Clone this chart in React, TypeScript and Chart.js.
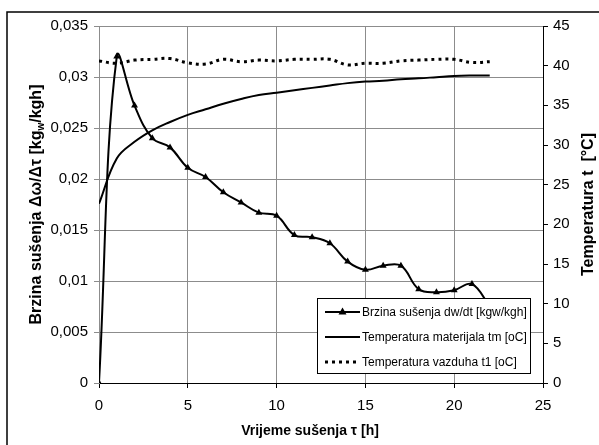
import React, { useEffect, useRef } from 'react';
import { Chart, registerables } from 'chart.js';

Chart.register(...registerables);

// ---- data ----
const hours = [0, 1, 2, 3, 4, 5, 6, 7, 8, 9, 10, 11, 12, 13, 14, 15, 16, 17, 18, 19, 20, 21, 22];
const dryingRate = [0, 0.032, 0.0272, 0.024, 0.0231, 0.0211, 0.0202, 0.0187, 0.0177, 0.0167, 0.0164, 0.0145, 0.0143, 0.0137, 0.0119, 0.0111, 0.0115, 0.0115, 0.0092, 0.0089, 0.0091, 0.0097, 0.0075];
const materialTemp = [22.6, 28.3, 30.4, 31.85, 32.9, 33.8, 34.5, 35.2, 35.8, 36.3, 36.6, 36.9, 37.2, 37.5, 37.8, 38.0, 38.1, 38.3, 38.4, 38.55, 38.7, 38.75, 38.75];
const airTemp = [40.6, 40.3, 40.7, 40.8, 40.9, 40.35, 40.2, 40.8, 40.5, 40.7, 40.6, 40.8, 40.8, 40.8, 40.1, 40.3, 40.3, 40.6, 40.7, 40.8, 40.8, 40.4, 40.5];

const seriesLabels = [
  'Brzina sušenja dw/dt [kgw/kgh]',
  'Temperatura materijala tm [oC]',
  'Temperatura vazduha t1 [oC]',
];
const xTitle = 'Vrijeme sušenja τ [h]';
const yTitleParts = ['Brzina sušenja Δω/Δτ [kg', 'w', '/kgh]'];
const y1Title = 'Temperatura t  [°C]';

const FONT = '"Liberation Sans", Arial, sans-serif';
const GRID = '#8c8c8c';

const decorPlugin = {
  id: 'decor',
  beforeDraw(chart: any) {
    const ctx = chart.ctx;
    ctx.save();
    ctx.fillStyle = '#fff';
    ctx.fillRect(0, 0, chart.width, chart.height);
    ctx.strokeStyle = '#000';
    ctx.lineWidth = 1.5;
    ctx.strokeRect(7, 12, chart.width + 20, chart.height + 20);
    ctx.restore();
  },
  afterDraw(chart: any) {
    const ctx = chart.ctx;
    const ca = chart.chartArea;
    ctx.save();
    ctx.fillStyle = '#000';
    // x title
    ctx.font = `bold 14px ${FONT}`;
    ctx.textAlign = 'center';
    ctx.textBaseline = 'middle';
    ctx.fillText(xTitle, 310, 431);

    // left title with subscript
    const cy = (ca.top + ca.bottom) / 2;
    ctx.save();
    ctx.translate(37, cy);
    ctx.rotate(-Math.PI / 2);
    const mainFont = `bold 16px ${FONT}`;
    const subFont = `bold 10px ${FONT}`;
    ctx.font = mainFont;
    const w0 = ctx.measureText(yTitleParts[0]).width;
    const w2 = ctx.measureText(yTitleParts[2]).width;
    ctx.font = subFont;
    const w1 = ctx.measureText(yTitleParts[1]).width;
    const total = w0 + w1 + w2;
    let x = -total / 2;
    ctx.textAlign = 'left';
    ctx.textBaseline = 'middle';
    ctx.font = mainFont;
    ctx.fillText(yTitleParts[0], x, 0);
    x += w0;
    ctx.font = subFont;
    ctx.fillText(yTitleParts[1], x, 4);
    x += w1;
    ctx.font = mainFont;
    ctx.fillText(yTitleParts[2], x, 0);
    ctx.restore();

    // right title
    ctx.save();
    ctx.translate(589, cy);
    ctx.rotate(-Math.PI / 2);
    ctx.font = `bold 16px ${FONT}`;
    ctx.textAlign = 'center';
    ctx.textBaseline = 'middle';
    ctx.fillText(y1Title, 0, 0);
    ctx.restore();

    // legend
    const lx = 317, ly = 298, lw = 213, lh = 75;
    ctx.fillStyle = '#fff';
    ctx.fillRect(lx, ly, lw, lh);
    ctx.strokeStyle = '#000';
    ctx.lineWidth = 1;
    ctx.strokeRect(lx + 0.5, ly + 0.5, lw, lh);
    const rows = [312, 337, 362];
    chart.data.datasets.forEach((ds: any, i: number) => {
      const ry = rows[i];
      ctx.save();
      ctx.strokeStyle = '#000';
      ctx.lineWidth = ds.borderWidth;
      ctx.setLineDash(ds.borderDash || []);
      ctx.lineCap = 'butt';
      ctx.beginPath();
      ctx.moveTo(325, ry);
      ctx.lineTo(360, ry);
      ctx.stroke();
      ctx.restore();
      if (ds.pointRadius > 0) {
        const cx = 342.5;
        ctx.beginPath();
        ctx.moveTo(cx, ry - 4.5);
        ctx.lineTo(cx - 4, ry + 2.5);
        ctx.lineTo(cx + 4, ry + 2.5);
        ctx.closePath();
        ctx.fillStyle = '#000';
        ctx.fill();
      }
      ctx.fillStyle = '#000';
      ctx.font = `12px ${FONT}`;
      ctx.textAlign = 'left';
      ctx.textBaseline = 'middle';
      ctx.fillText(ds.label, 362, ry + 0.5);
    });
    ctx.restore();
  },
};

export default function App() {
  const ref = useRef<HTMLCanvasElement | null>(null);
  useEffect(() => {
    document.body.style.margin = '0';
    const canvas = ref.current;
    if (!canvas) return;
    const chart = new Chart(canvas, {
      type: 'line',
      data: {
        datasets: [
          {
            label: seriesLabels[0],
            data: hours.map((h, i) => ({ x: h, y: dryingRate[i] })),
            yAxisID: 'y',
            borderColor: '#000',
            backgroundColor: '#000',
            borderWidth: 2,
            tension: 0.4,
            pointStyle: 'triangle',
            pointRadius: 4,
            pointBackgroundColor: '#000',
            pointBorderColor: '#000',
            pointBorderWidth: 0,
          },
          {
            label: seriesLabels[1],
            data: hours.map((h, i) => ({ x: h, y: materialTemp[i] })),
            yAxisID: 'y1',
            borderColor: '#000',
            borderWidth: 2,
            tension: 0.4,
            pointRadius: 0,
          },
          {
            label: seriesLabels[2],
            data: hours.map((h, i) => ({ x: h, y: airTemp[i] })),
            yAxisID: 'y1',
            borderColor: '#000',
            borderWidth: 3,
            borderDash: [3, 4],
            tension: 0.4,
            pointRadius: 0,
          },
        ],
      },
      options: {
        responsive: false,
        animation: false,
        devicePixelRatio: 1,
        layout: { padding: { top: 26, left: 0, right: 0, bottom: 0 } },
        plugins: { legend: { display: false }, tooltip: { enabled: false } },
        scales: {
          x: {
            type: 'linear',
            min: 0,
            max: 25,
            ticks: { stepSize: 5, color: '#000', font: { family: FONT, size: 15 }, padding: 9, maxRotation: 0 },
            grid: {
              color: (c: any) => (c.tick && c.tick.value === 25 ? '#000' : GRID),
              tickColor: '#000',
              tickLength: 5,
            },
            border: { color: '#000', width: 1 },
            afterFit: (s: any) => { s.height = 62; },
          },
          y: {
            position: 'left',
            min: 0,
            max: 0.035,
            ticks: {
              stepSize: 0.005,
              color: '#000',
              font: { family: FONT, size: 15 },
              padding: 6,
              callback: (v: any) => String(Number(Number(v).toFixed(3))).replace('.', ','),
            },
            grid: {
              color: (c: any) => (c.tick && c.tick.value === 0 ? '#000' : GRID),
              tickColor: GRID,
              tickLength: 5,
            },
            border: { color: GRID, width: 1 },
            afterFit: (s: any) => { s.width = 99; },
          },
          y1: {
            position: 'right',
            min: 0,
            max: 45,
            ticks: { stepSize: 5, color: '#000', font: { family: FONT, size: 15 }, padding: 5 },
            grid: { drawOnChartArea: false, tickColor: '#000', tickLength: 5 },
            border: { color: '#000', width: 1 },
            afterFit: (s: any) => { s.width = 56; },
          },
        },
      },
      plugins: [decorPlugin],
    } as any);
    return () => chart.destroy();
  }, []);
  return (
    <div style={{ width: 599, height: 445 }}>
      <canvas ref={ref} width={599} height={445} style={{ display: 'block' }} />
    </div>
  );
}
